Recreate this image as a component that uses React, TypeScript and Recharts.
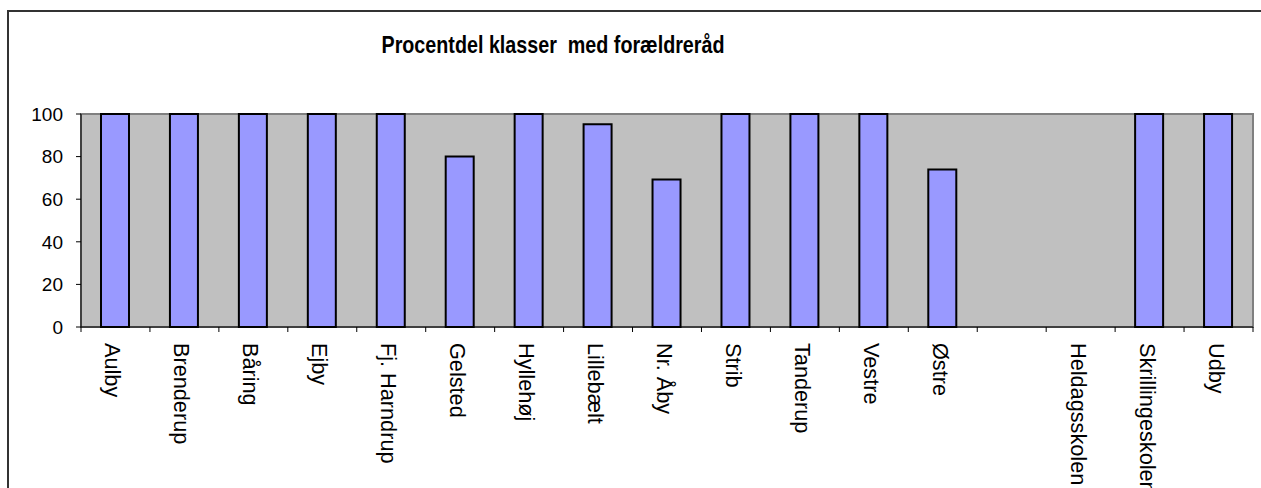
import React from 'react';
import { BarChart, Bar, XAxis, YAxis, CartesianGrid, ReferenceArea } from 'recharts';

const schools = [
  'Aulby', 'Brenderup', 'Båring', 'Ejby', 'Fj. Harndrup', 'Gelsted', 'Hyllehøj', 'Lillebælt',
  'Nr. Åby', 'Strib', 'Tanderup', 'Vestre', 'Østre', '', 'Heldagsskolen', 'Skrillingeskolen', 'Udby',
];
const percentWithCouncil = [100, 100, 100, 100, 100, 80, 100, 95.2, 69.2, 100, 100, 100, 74, null, null, 100, 100];
const yTicks = [0, 20, 40, 60, 80, 100];
const title = 'Procentdel klasser  med forældreråd';

const data = schools.map((name, i) => ({ name, value: percentWithCouncil[i] }));

const FONT = '"Liberation Sans", Arial, sans-serif';
const TICK_SIZE = 5;
const TICK_MARGIN = 11;

// excel style: tick marks sit between categories, labels turned 90deg
const CategoryTick = (props: any) => {
  const { x, y, payload, index, width, visibleTicksCount } = props;
  const half = width / visibleTicksCount / 2;
  const axisY = y - TICK_SIZE - TICK_MARGIN;
  return (
    <g>
      <line x1={x - half} x2={x - half} y1={axisY} y2={axisY + TICK_SIZE} stroke="#000" />
      {index === visibleTicksCount - 1 && (
        <line x1={x + half} x2={x + half} y1={axisY} y2={axisY + TICK_SIZE} stroke="#000" />
      )}
      <text
        x={x}
        y={y}
        dy={10}
        transform={`rotate(90, ${x}, ${y})`}
        textAnchor="start"
        fontSize={21.7}
        fontFamily={FONT}
        fill="#000"
      >
        {payload.value}
      </text>
    </g>
  );
};

export default function App() {
  return (
    <div style={{ position: 'absolute', left: 0, top: 0, width: 1261, height: 488, overflow: 'hidden', background: '#fff', fontFamily: FONT }}>
      <div style={{ position: 'absolute', left: 7, top: 10, width: 1300, height: 600, border: '2px solid #333' }} />
      <svg width={1261} height={80} style={{ position: 'absolute', left: 0, top: 0 }}>
        <text
          x={553}
          y={53}
          textAnchor="middle"
          fontSize={24}
          fontWeight="bold"
          fontFamily={FONT}
          textLength={343}
          lengthAdjust="spacingAndGlyphs"
          style={{ whiteSpace: 'pre' }}
          fill="#000"
        >
          {title}
        </text>
      </svg>
      <div style={{ position: 'absolute', left: 0, top: 0 }}>
        <BarChart width={1261} height={488} data={data} margin={{ top: 114, right: 8, left: 11, bottom: 0 }}>
          <CartesianGrid horizontal={false} vertical={false} fill="#C0C0C0" fillOpacity={1} />
          <ReferenceArea x1="Aulby" x2="Udby" y1={0} y2={100} fill="none" stroke="#808080" strokeWidth={2} />
          <XAxis
            dataKey="name"
            interval={0}
            height={161}
            tickLine={false}
            tickSize={TICK_SIZE}
            tickMargin={TICK_MARGIN}
            axisLine={{ stroke: '#000' }}
            tick={<CategoryTick />}
          />
          <YAxis
            type="number"
            domain={[0, 100]}
            ticks={yTicks}
            interval={0}
            width={70}
            tickSize={5}
            tickMargin={13}
            axisLine={{ stroke: '#000' }}
            tickLine={{ stroke: '#000' }}
            tick={{ fill: '#000', fontSize: 19, fontFamily: FONT }}
          />
          <Bar dataKey="value" fill="#9999FF" stroke="#000" strokeWidth={2} barSize={28} isAnimationActive={false} />
        </BarChart>
      </div>
    </div>
  );
}
